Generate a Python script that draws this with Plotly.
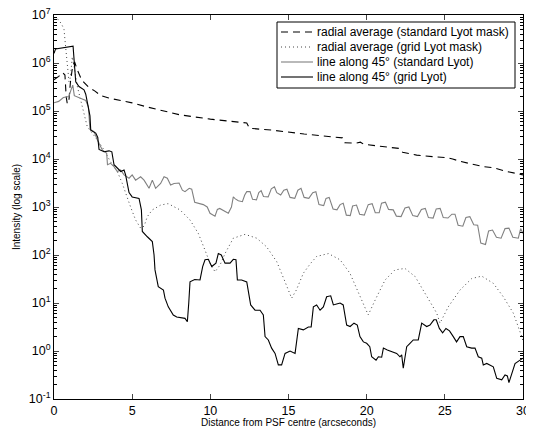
import numpy as np
import plotly.graph_objects as go

# ---- data (log10 of intensity) ----
dashed_x = [0, 0.3, 0.55, 0.7, 0.78, 0.85, 0.95, 1.05, 1.2, 1.32, 1.5, 1.7, 1.9, 2.2, 2.6, 3.0, 3.5, 4.2,
            5.0, 6.0, 7.0, 8.06, 10, 12.33, 12.5, 14, 16, 18.45, 18.6, 19.3, 19.6, 19.8, 21, 22.1, 22.3,
            23.2, 24.2, 25.1, 25.5, 26, 27.46, 28.1, 28.95, 30]
dashed_log = [5.65, 5.72, 5.8, 5.75, 5.3, 5.15, 5.2, 5.6, 5.95, 6.02, 5.85, 5.7, 5.6, 5.5, 5.42, 5.32, 5.27, 5.22,
              5.17, 5.08, 5.0, 4.92, 4.83, 4.75, 4.64, 4.6, 4.52, 4.44, 4.34, 4.33, 4.35, 4.31, 4.26, 4.22, 4.14,
              4.08, 4.05, 4.03, 4.0, 3.95, 3.84, 3.82, 3.74, 3.67]

dotted_x = [0, 0.3, 0.5, 0.64, 0.75, 0.85, 0.96, 1.05, 1.17, 1.3, 1.5, 1.81, 2.13, 2.77, 3.2, 3.62, 4.05, 4.37,
            4.58, 4.9, 5.22, 5.54, 5.76, 5.97, 6.29, 6.82, 7.3, 8.06, 8.7, 9.23, 9.66, 9.98, 10.3, 10.62, 10.94,
            11.47, 12.22, 12.97, 13.6, 14.25, 14.78, 15.2, 15.5, 15.95, 16.4, 16.8, 17.55, 18.3, 18.93, 19.57,
            20.1, 20.54, 21.18, 21.81, 22.45, 23.1, 23.84, 24.48, 24.69, 25.22, 25.97, 26.72, 27.36, 28.1, 28.74,
            29.38, 29.92, 30]
dotted_log = [6.95, 6.9, 6.8, 6.7, 6.31, 6.03, 5.61, 5.7, 6.13, 5.9, 5.5, 5.09, 4.67, 4.4, 4.19, 3.94, 3.74, 3.49,
              3.29, 3.0, 2.73, 2.56, 2.6, 2.8, 2.94, 3.04, 3.07, 2.94, 2.73, 2.45, 2.1, 1.83, 1.65, 1.79, 2.03,
              2.35, 2.43, 2.35, 2.17, 1.86, 1.44, 1.1, 1.27, 1.62, 1.82, 1.97, 2.03, 1.9, 1.62, 1.13,
              0.75, 1.06, 1.48, 1.69, 1.72, 1.55, 1.13, 0.79, 0.58, 0.92, 1.27, 1.51, 1.56, 1.41, 1.13,
              0.79, 0.3, 0.2]

gray_x = [0, 0.3, 0.6, 0.95, 1.1, 1.2, 1.3, 1.7, 2.03, 2.2, 2.3, 2.56, 2.77, 3.09, 3.37, 3.42, 3.62, 3.84, 4.05,
          4.26, 4.48, 4.8, 5.0, 5.22, 5.54, 5.76, 6.08, 6.29, 6.5, 6.82, 7.04, 7.25, 7.46, 7.68, 8.0, 8.21, 8.38,
          8.65, 8.81, 9.0, 9.3, 9.55, 9.8, 9.98, 10.3, 10.45, 10.6, 10.9, 11.15, 11.35, 11.47, 11.6, 11.79,
          12.05, 12.2, 12.33, 12.54, 12.7, 12.95, 13.1, 13.25, 13.4, 13.7, 13.9, 14.1, 14.25, 14.5, 14.7, 14.9,
          15.1, 15.4, 15.6, 15.8, 16.0, 16.3, 16.55, 16.75, 16.95, 17.25, 17.4, 17.6, 17.85, 18.1, 18.3, 18.5,
          18.7, 18.95, 19.1, 19.35, 19.55, 19.85, 20.1, 20.35, 20.55, 20.8, 20.95, 21.2, 21.4, 21.7, 21.9, 22.2,
          22.45, 22.7, 22.95, 23.25, 23.5, 23.75, 23.95, 24.25, 24.45, 24.7, 24.9, 25.2, 25.45, 25.65, 25.85,
          26.15, 26.35, 26.6, 26.85, 27.1, 27.3, 27.6, 27.8, 28.05, 28.3, 28.6, 28.85, 29.1, 29.35, 29.7, 29.85, 30]
gray_log = [5.17, 5.2, 5.28, 5.3, 5.45, 5.54, 5.32, 5.26, 5.22, 5.09, 4.62, 4.57, 4.4, 4.19, 4.12, 3.88, 3.91, 3.84,
            3.74, 3.77, 3.67, 3.6, 3.67, 3.56, 3.63, 3.56, 3.39, 3.56, 3.39, 3.49, 3.63, 3.6, 3.46, 3.49, 3.5, 3.35,
            3.32, 3.39, 3.37, 3.1, 3.07, 3.05, 3.0, 2.87, 2.81, 2.95, 2.97, 2.92, 2.87, 3.0, 3.21, 3.17, 3.13,
            3.11, 3.25, 3.32, 3.32, 3.16, 3.15, 3.3, 3.34, 3.22, 3.21, 3.38, 3.42, 3.3, 3.25, 3.35, 3.37,
            3.2, 3.18, 3.35, 3.39, 3.2, 3.18, 3.3, 3.32, 3.05, 3.03, 3.18, 3.2, 2.96, 2.94, 3.05, 3.08,
            2.83, 2.82, 3.02, 3.04, 2.85, 2.83, 3.05, 3.07, 2.88, 2.88, 3.08, 3.1, 2.95, 2.94, 2.81, 2.8,
            2.98, 3.0, 2.82, 2.8, 2.95, 2.97, 2.78, 2.77, 2.96, 2.97, 2.78, 2.77, 2.85, 2.85, 2.62,
            2.6, 2.78, 2.8, 2.63, 2.62, 2.25, 2.22, 2.5, 2.52, 2.37, 2.35, 2.55, 2.56, 2.37, 2.35, 2.55, 2.45]

black_x = [0, 0.1, 1.22, 1.28, 1.39, 1.6, 1.92, 2.03, 2.13, 2.3, 2.35, 2.67, 2.8, 2.88, 3.2, 3.52, 3.7, 3.84, 4.27,
           4.48, 4.58, 4.8, 5.0, 5.44, 5.59, 5.65, 5.97, 6.29, 6.4, 6.46, 6.67, 7.0, 7.1, 7.31, 7.63, 7.85, 8.38,
           8.53, 8.62, 8.7, 9.0, 9.34, 9.51, 9.66, 9.87, 10.09, 10.36, 10.51, 10.7, 10.94, 11.26, 11.47, 11.64,
           11.73, 12.0, 12.33, 12.58, 12.86, 13.18, 13.39, 13.5, 13.71, 13.92, 14.14, 14.35, 14.56, 14.78, 15.1,
           15.42, 15.63, 15.95, 16.27, 16.45, 16.59, 16.8, 17.02, 17.23, 17.44, 17.7, 17.87, 18.08, 18.3, 18.5,
           18.72, 18.94, 19.19, 19.4, 19.57, 19.79, 20.0, 20.2, 20.32, 20.6, 20.75, 20.96, 21.07, 21.32, 21.6,
           21.92, 22.13, 22.24, 22.34, 22.45, 22.56, 22.77, 22.98, 23.3, 23.52, 23.84, 24.05, 24.3, 24.45, 24.65,
           24.86, 25.07, 25.3, 25.54, 25.75, 25.97, 26.18, 26.4, 26.72, 26.93, 27.14, 27.36, 27.46, 27.68, 28.1,
           28.32, 28.64, 28.85, 29.0, 29.1, 29.28, 29.49, 29.81, 30]
black_log = [6.2, 6.29, 6.35, 6.0, 5.61, 5.51, 5.44, 5.35, 5.19, 4.9, 4.6, 4.54, 4.45, 4.2, 4.15, 4.17, 4.15, 3.88,
             3.74, 3.77, 3.67, 3.3, 3.21, 3.18, 2.94, 2.49, 2.38, 2.28, 2.0, 1.69, 1.34, 1.27, 1.1, 0.92, 0.75, 0.71,
             0.68, 0.61, 1.0, 1.44, 1.49, 1.48, 1.76, 1.9, 1.91, 1.76, 1.83, 2.03, 2.0, 1.83, 1.83, 1.91, 1.9,
             1.48, 1.48, 1.44, 0.96, 0.85, 0.85, 0.75, 0.3, 0.23, 0.06, -0.05, -0.29, -0.29, -0.05, 0.0,
             -0.05, 0.47, 0.44, 0.5, 0.5, 0.92, 0.96, 0.85, 0.92, 1.13, 1.15, 0.96, 0.98, 1.0, 0.96,
             0.54, 0.51, 0.58, 0.54, 0.3, 0.19, 0.16, 0.09, -0.12, -0.19, -0.12, -0.13, 0.06, 0.02, -0.01,
             -0.05, -0.12, -0.08, -0.36, -0.15, 0.09, 0.16, 0.23, 0.23, 0.58, 0.51, 0.54, 0.65, 0.65, 0.47,
             0.38, 0.47, 0.42, 0.3, 0.19, 0.3, 0.3, 0.09, 0.06, 0.06, -0.12, -0.15, -0.29, -0.26, -0.33,
             -0.57, -0.6, -0.5, -0.52, -0.66, -0.46, -0.26, -0.19, -0.15]

series_names = ["radial average (standard Lyot mask)", "radial average (grid Lyot mask)",
                "line along 45° (standard Lyot)", "line along 45° (grid Lyot)"]

y_tick_vals = [1e-1, 1e0, 1e1, 1e2, 1e3, 1e4, 1e5, 1e6, 1e7]
y_tick_text = ["10<sup>-1</sup>", "10<sup>0</sup>", "10<sup>1</sup>", "10<sup>2</sup>", "10<sup>3</sup>",
               "10<sup>4</sup>", "10<sup>5</sup>", "10<sup>6</sup>", "10<sup>7</sup>"]
x_tick_vals = [0, 5, 10, 15, 20, 25, 30]

FONT = "Liberation Sans, Arial, sans-serif"

styles = [dict(color="black", width=1.1, dash="7px,5px"),
          dict(color="#444444", width=1, dash="1px,3px"),
          dict(color="#808080", width=1.1),
          dict(color="black", width=1.1)]
xs = [dashed_x, dotted_x, gray_x, black_x]
ys = [dashed_log, dotted_log, gray_log, black_log]

fig = go.Figure()
for name, x, lg, st in zip(series_names, xs, ys, styles):
    fig.add_trace(go.Scatter(x=x, y=10 ** np.array(lg), mode="lines", name=name, line=st,
                             showlegend=False))

# page body has an 8px margin: the figure is placed at (8, 8) in the window
OFF = 8
W, H = 534 - OFF, 428 - OFF
L, R, T, B = 54 - OFF, 523 - OFF, 15 - OFF, 399 - OFF

def px(x):  # window pixel -> paper x
    return (x - OFF - L) / (R - L)

def py(y):  # window pixel -> paper y
    return 1 - (y - OFF - T) / (B - T)

shapes = [dict(type="rect", xref="paper", yref="paper", x0=px(277), x1=px(515), y0=py(88), y1=py(22),
               line=dict(color="black", width=1), fillcolor="white", layer="above")]
annotations = []
row_y = [32, 47, 62, 77]
for name, st, ry in zip(series_names, styles, row_y):
    shapes.append(dict(type="line", xref="paper", yref="paper", x0=px(281), x1=px(313), y0=py(ry), y1=py(ry),
                       line=st, layer="above"))
    annotations.append(dict(text=name, xref="paper", yref="paper", x=px(315), y=py(ry), xanchor="left",
                            yanchor="middle", showarrow=False, font=dict(family=FONT, size=12, color="black")))

minor_y = [m * 10.0 ** k for k in range(-1, 7) for m in range(2, 10)]

fig.update_layout(
    width=W, height=H,
    margin=dict(l=L, r=W - R, t=T, b=H - B, autoexpand=False),
    paper_bgcolor="white", plot_bgcolor="white",
    font=dict(family=FONT, size=12, color="black"),
    showlegend=False,
    shapes=shapes, annotations=annotations,
    xaxis=dict(range=[0, 30], tickvals=x_tick_vals, ticks="inside", ticklen=5,
               showline=True, linecolor="black", linewidth=1, mirror="allticks",
               showgrid=False, zeroline=False, automargin=False,
               ticklabeloverflow="allow",
               tickfont=dict(family=FONT, size=12.5),
               title=dict(text="Distance from PSF centre (arcseconds)", standoff=6,
                          font=dict(family=FONT, size=10))),
    yaxis=dict(type="log", range=[-1, 7], tickvals=y_tick_vals, ticktext=y_tick_text,
               ticks="inside", ticklen=5, showline=True, linecolor="black", linewidth=1,
               mirror="allticks", showgrid=False, zeroline=False, automargin=False,
               ticklabeloverflow="allow",
               tickfont=dict(family=FONT, size=12.5),
               minor=dict(tickvals=minor_y, ticks="inside", ticklen=3, tickcolor="black"),
               title=dict(text="Intensity (log scale)", standoff=6,
                          font=dict(family=FONT, size=10))),
)

fig.write_html("out.html")
